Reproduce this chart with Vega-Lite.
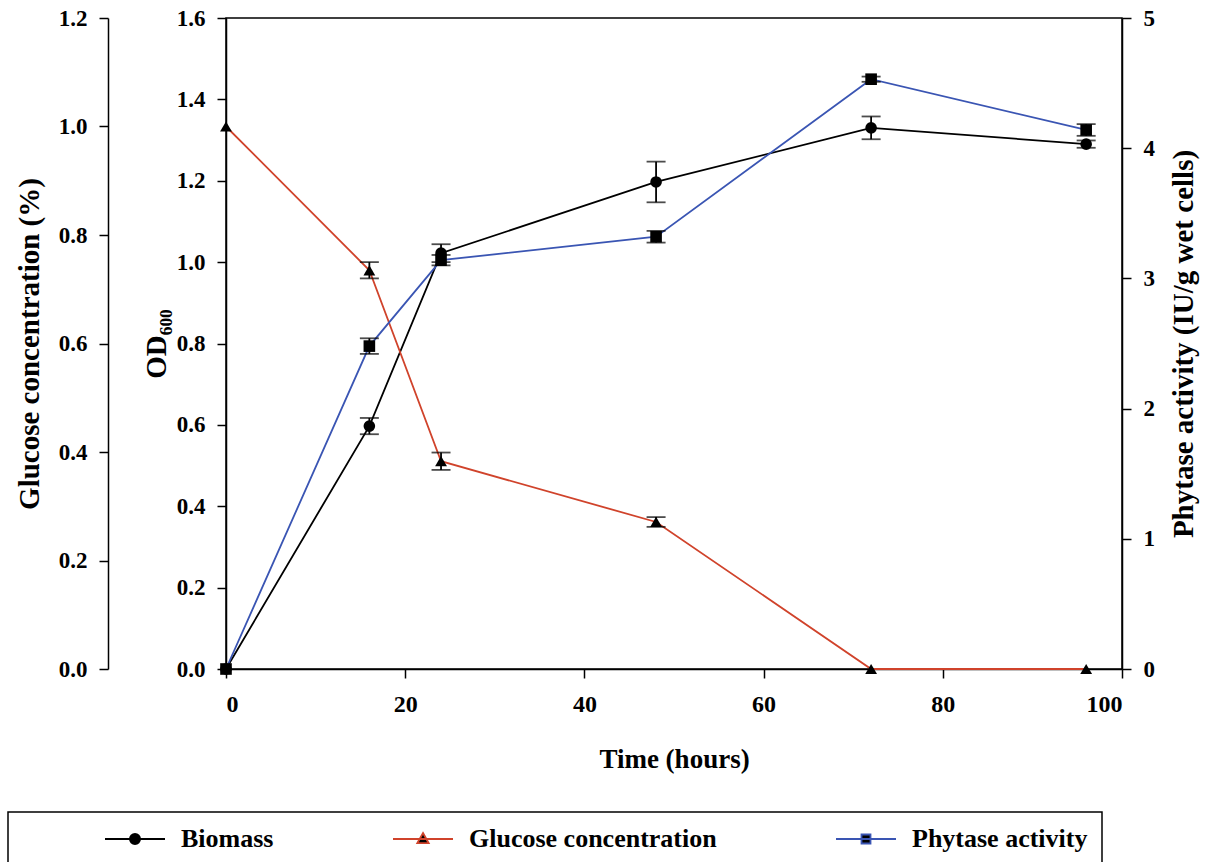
{
  "$schema": "https://vega.github.io/schema/vega-lite/v6.json",
  "width": 896,
  "height": 651,
  "autosize": {"type": "none"},
  "padding": {"left": 226, "top": 18, "right": 85, "bottom": 193},
  "background": "white",
  "config": {
    "font": "Liberation Serif",
    "view": {"stroke": "black", "strokeWidth": 1.5},
    "axis": {
      "domainColor": "black", "domainWidth": 1.5,
      "tickColor": "black", "tickWidth": 1.5, "tickSize": 9,
      "labelFont": "Liberation Serif", "labelFontWeight": "bold", "labelFontSize": 23, "labelColor": "black", "labelPadding": 12,
      "titleFont": "Liberation Serif", "titleFontWeight": "bold", "titleFontSize": 29, "titleColor": "black",
      "grid": false
    },
    "legend": {"strokeWidth": 1.5}
  },
  "data": {
    "values": [
      {"time": 0, "series": "Biomass", "value": 0, "err": 0},
      {"time": 16, "series": "Biomass", "value": 0.597, "err": 0.02},
      {"time": 24, "series": "Biomass", "value": 1.022, "err": 0.022},
      {"time": 48, "series": "Biomass", "value": 1.197, "err": 0.05},
      {"time": 72, "series": "Biomass", "value": 1.33, "err": 0.028},
      {"time": 96, "series": "Biomass", "value": 1.29, "err": 0.009},
      {"time": 0, "series": "Glucose concentration", "value": 1.0, "err": 0},
      {"time": 16, "series": "Glucose concentration", "value": 0.735, "err": 0.015},
      {"time": 24, "series": "Glucose concentration", "value": 0.383, "err": 0.016},
      {"time": 48, "series": "Glucose concentration", "value": 0.271, "err": 0.009},
      {"time": 72, "series": "Glucose concentration", "value": 0, "err": 0},
      {"time": 96, "series": "Glucose concentration", "value": 0, "err": 0},
      {"time": 0, "series": "Phytase activity", "value": 0, "err": 0},
      {"time": 16, "series": "Phytase activity", "value": 2.48, "err": 0.06},
      {"time": 24, "series": "Phytase activity", "value": 3.14, "err": 0.04},
      {"time": 48, "series": "Phytase activity", "value": 3.32, "err": 0.045},
      {"time": 72, "series": "Phytase activity", "value": 4.53, "err": 0.02},
      {"time": 96, "series": "Phytase activity", "value": 4.14, "err": 0.045}
    ]
  },
  "encoding": {
    "x": {
      "field": "time", "type": "quantitative",
      "scale": {"domain": [0, 100], "nice": false},
      "axis": {"values": [0, 20, 40, 60, 80, 100], "format": "d", "title": "Time (hours)", "titleFontSize": 27, "labelFontSize": 24, "labelPadding": 14, "titlePadding": 30}
    }
  },
  "layer": [
    {
      "transform": [{"filter": "datum.series === 'Biomass'"}],
      "encoding": {
        "y": {
          "field": "value", "type": "quantitative",
          "scale": {"domain": [0, 1.6], "nice": false},
          "axis": {"orient": "left", "values": [0, 0.2, 0.4, 0.6, 0.8, 1, 1.2, 1.4, 1.6], "format": ".1f", "title": "OD₆₀₀", "titlePadding": 5}
        }
      },
      "layer": [
        {"mark": {"type": "line", "strokeWidth": 1.8, "color": "black"}},
        {
          "transform": [{"filter": "datum.err > 0"}],
          "mark": {"type": "errorbar", "ticks": {"size": 19}, "thickness": 1.8, "color": "black"},
          "encoding": {"yError": {"field": "err"}}
        },
        {"mark": {"type": "point", "shape": "circle", "filled": true, "opacity": 1, "color": "black", "size": 135}}
      ]
    },
    {
      "transform": [{"filter": "datum.series === 'Glucose concentration'"}],
      "encoding": {
        "y": {
          "field": "value", "type": "quantitative",
          "scale": {"domain": [0, 1.2], "nice": false},
          "axis": {"orient": "left", "offset": 118, "values": [0, 0.2, 0.4, 0.6, 0.8, 1, 1.2], "format": ".1f", "title": "Glucose concentration (%)", "titlePadding": 14}
        }
      },
      "layer": [
        {"mark": {"type": "line", "strokeWidth": 1.8, "color": "#d0432b"}},
        {
          "transform": [{"filter": "datum.err > 0"}],
          "mark": {"type": "errorbar", "ticks": {"size": 19}, "thickness": 1.8, "color": "black"},
          "encoding": {"yError": {"field": "err"}}
        },
        {"mark": {"type": "point", "shape": "triangle-up", "filled": true, "opacity": 1, "color": "black", "size": 140}}
      ]
    },
    {
      "transform": [{"filter": "datum.series === 'Phytase activity'"}],
      "encoding": {
        "y": {
          "field": "value", "type": "quantitative",
          "scale": {"domain": [0, 5], "nice": false},
          "axis": {"orient": "right", "values": [0, 1, 2, 3, 4, 5], "format": "d", "title": "Phytase activity (IU/g wet cells)", "titleAngle": -90, "titleBaseline": "top", "titlePadding": 15}
        }
      },
      "layer": [
        {"mark": {"type": "line", "strokeWidth": 1.8, "color": "#3a55b3"}},
        {
          "transform": [{"filter": "datum.err > 0"}],
          "mark": {"type": "errorbar", "ticks": {"size": 19}, "thickness": 1.8, "color": "black"},
          "encoding": {"yError": {"field": "err"}}
        },
        {"mark": {"type": "point", "shape": "square", "filled": true, "opacity": 1, "color": "black", "size": 135}}
      ]
    },
    {
      "mark": {"type": "point", "filled": true, "fill": "black", "size": 0, "strokeWidth": 1.8},
      "encoding": {
        "y": {"field": "value", "type": "quantitative", "axis": null},
        "shape": {
          "field": "series", "type": "nominal",
          "scale": {
            "domain": ["Biomass", "Glucose concentration", "Phytase activity"],
            "range": [
              "M-1,0H1M-0.17,0A0.17,0.17,0,1,0,0.17,0A0.17,0.17,0,1,0,-0.17,0Z",
              "M-1,0H1M0,-0.2L0.19,0.14L-0.19,0.14Z",
              "M-1,0H1M-0.15,-0.15H0.15V0.15H-0.15Z"
            ]
          },
          "legend": {"orient": "none", "legendX": -218, "legendY": 794, "direction": "horizontal", "title": " ", "titleOrient": "left", "titleFontSize": 26, "titlePadding": 82, "symbolSize": 3600, "symbolStrokeWidth": 1.8, "symbolFillColor": "black", "symbolOpacity": 1, "clipHeight": 26, "labelFont": "Liberation Serif", "labelFontWeight": "bold", "labelFontSize": 26, "labelColor": "black", "labelOffset": 15, "labelLimit": 500, "columnPadding": 118, "padding": 14, "strokeColor": "black"}
        },
        "stroke": {
          "field": "series", "type": "nominal",
          "scale": {"domain": ["Biomass", "Glucose concentration", "Phytase activity"], "range": ["black", "#d0432b", "#3a55b3"]},
          "legend": {"orient": "none", "legendX": -218, "legendY": 794, "direction": "horizontal", "title": " ", "titleOrient": "left", "titleFontSize": 26, "titlePadding": 82, "symbolSize": 3600, "symbolStrokeWidth": 1.8, "symbolFillColor": "black", "symbolOpacity": 1, "clipHeight": 26, "labelFont": "Liberation Serif", "labelFontWeight": "bold", "labelFontSize": 26, "labelColor": "black", "labelOffset": 15, "labelLimit": 500, "columnPadding": 118, "padding": 14, "strokeColor": "black"}
        }
      }
    }
  ],
  "resolve": {"scale": {"y": "independent"}}
}
